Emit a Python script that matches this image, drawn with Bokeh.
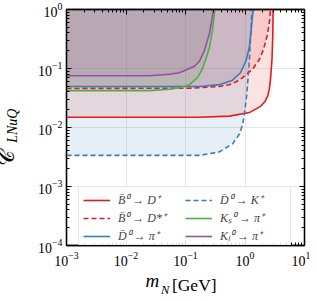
from bokeh.plotting import figure
from bokeh.models import LogAxis, FixedTicker, LogTickFormatter, Title, Legend, LegendItem
from bokeh.embed import file_html
from bokeh.resources import INLINE

# ---- data (m_N in GeV, C_LNuQ upper limits) ----
m_BD = [0.001, 0.17, 0.548, 1.19, 1.872, 2.168, 2.416, 2.581, 2.683, 2.843, 2.932, 2.967]
c_BD = [0.0149, 0.0149, 0.0156, 0.0179, 0.0233, 0.0275, 0.0344, 0.0464, 0.0659, 0.143, 0.379, 1.0]

m_BDs = [0.001, 0.1167, 0.3724, 0.548, 0.719, 0.9078, 1.337, 1.753, 2.046, 2.388, 2.581, 2.683]
c_BDs = [0.0459, 0.0463, 0.0496, 0.0532, 0.0598, 0.0698, 0.0971, 0.1433, 0.2113, 0.379, 0.627, 1.0]

m_Dpi = [0.001, 0.1718, 0.3724, 0.616, 0.840, 1.048, 1.190, 1.271, 1.352, 1.390]
c_Dpi = [0.0496, 0.0496, 0.0532, 0.0634, 0.0848, 0.1378, 0.2374, 0.442, 0.856, 1.0]

m_DK = [0.001, 0.1718, 0.3724, 0.624, 0.8084, 0.918, 0.981, 1.060, 1.123, 1.190, 1.261, 1.311]
c_DK = [0.00337, 0.00337, 0.00386, 0.00533, 0.00776, 0.01146, 0.0176, 0.0327, 0.0659, 0.149, 0.46, 1.0]

m_KS = [0.001, 0.0248, 0.0538, 0.0793, 0.1167, 0.159, 0.1858, 0.2169, 0.2531, 0.2844, 0.3107]
c_KS = [0.0421, 0.0421, 0.0446, 0.0473, 0.0532, 0.0698, 0.0917, 0.1378, 0.2284, 0.442, 1.0]

m_KL = [0.001, 0.0248, 0.0538, 0.0793, 0.1416, 0.1718, 0.2086, 0.2531, 0.2787, 0.2957]
c_KL = [0.0755, 0.0755, 0.0800, 0.0848, 0.1091, 0.1325, 0.2032, 0.394, 0.678, 1.0]

labels = ["B\u0304\u2070 \u2192 D\u207a", "B\u0304\u2070 \u2192 D*\u207a", "D\u0304\u2070 \u2192 \u03c0\u207a",
          "D\u0304\u2070 \u2192 K\u207a", "K\u209b\u2070 \u2192 \u03c0\u207a", "K\u2097\u2070 \u2192 \u03c0\u207a"]

x_major = [1e-3, 1e-2, 1e-1, 1e0, 1e1]
y_major = [1e-4, 1e-3, 1e-2, 1e-1, 1e0]

RED, BLUE, GREEN, PURPLE = "#e41a1c", "#377eb8", "#4daf4a", "#984ea3"
series = [
    (m_BD, c_BD, RED, "solid"),
    (m_BDs, c_BDs, RED, "5 3"),
    (m_Dpi, c_Dpi, BLUE, "solid"),
    (m_DK, c_DK, BLUE, "5 3"),
    (m_KS, c_KS, GREEN, "solid"),
    (m_KL, c_KL, PURPLE, "solid"),
]

SERIF = "'Liberation Serif'"
NB = "\u00a0"

p = figure(width=310, height=298, x_axis_type="log", y_axis_type="log",
           x_range=(1e-3, 10), y_range=(1e-4, 1), output_backend="svg",
           toolbar_location=None, min_border_left=66, min_border_right=6,
           min_border_top=9, min_border_bottom=53)
p.background_fill_color = "white"
p.border_fill_color = "white"
p.outline_line_color = "black"
p.outline_line_width = 1.3

def minors(lo, hi):
    return [j * 10.0 ** k for k in range(lo, hi) for j in range(2, 10)]

xt = FixedTicker(ticks=x_major, minor_ticks=minors(-3, 1))
yt = FixedTicker(ticks=y_major, minor_ticks=minors(-4, 0))

def style(ax, show):
    ax.major_tick_in = 5
    ax.major_tick_out = 0
    ax.minor_tick_in = 3
    ax.minor_tick_out = 0
    ax.axis_line_color = "black"
    ax.axis_line_width = 1.3
    ax.major_tick_line_color = "black"
    ax.minor_tick_line_color = "black"
    ax.major_label_text_font = SERIF
    ax.major_label_text_color = "black"
    if show:
        ax.major_label_text_font_size = "14px"
    else:
        ax.major_label_text_font_size = "1px"
        ax.major_label_text_alpha = 0
        ax.major_label_standoff = 0

p.xaxis.ticker = xt
p.yaxis.ticker = yt
p.xaxis.formatter = LogTickFormatter()
p.yaxis.formatter = LogTickFormatter()
style(p.xaxis[0], True)
style(p.yaxis[0], True)
p.xaxis.major_label_standoff = 6
p.yaxis.major_label_standoff = 4

top = LogAxis(ticker=xt, formatter=LogTickFormatter())
right = LogAxis(ticker=yt, formatter=LogTickFormatter())
style(top, False)
style(right, False)
p.add_layout(top, "above")
p.add_layout(right, "right")

p.xgrid.ticker = xt
p.ygrid.ticker = yt
p.grid.grid_line_color = "#e6e6e6"
p.grid.grid_line_width = 1

for m, c, col, dash in series:
    p.varea(x=m, y1=c, y2=1.0, fill_color=col, fill_alpha=0.12)

renderers = []
for m, c, col, dash in series:
    r = p.line(m, c, line_color=col, line_width=1.6, line_dash=dash)
    renderers.append(r)

items = [LegendItem(label=lab, renderers=[r]) for lab, r in zip(labels, renderers)]
leg = Legend(items=items, ncols=2, location=(12, -4))
leg.label_text_font = SERIF
leg.label_text_font_style = "italic"
leg.label_text_font_size = "12px"
leg.glyph_width = 27
leg.glyph_height = 12
leg.label_height = 12
leg.label_width = 66
leg.spacing = 1
leg.padding = 4
leg.margin = 0
leg.label_standoff = 8
leg.border_line_color = "#cccccc"
leg.border_line_width = 1
leg.background_fill_alpha = 0.85
p.add_layout(leg, "center")

# axis titles built from several text pieces in the side panels
def title(place, text, size, style, valign, standoff):
    p.add_layout(Title(text=text, align="center", vertical_align=valign,
                       standoff=standoff, text_font=SERIF, text_font_size=size,
                       text_font_style=style, text_color="black"), place)

# y: spacer, subscript, script C
title("left", NB, "10px", "normal", "bottom", 17)
title("left", NB + "LNuQ", "14px", "italic", "bottom", -28)
title("left", "\U0001D49E" + NB * 11, "22px", "normal", "bottom", -26)
# x: spacer, m, [GeV], subscript N
title("below", NB, "10px", "normal", "top", 0)
title("below", "m" + NB * 14, "19px", "italic", "top", -23)
title("below", NB * 4 + "[GeV]", "17.5px", "normal", "top", -14)
title("below", "N" + NB * 13, "12.5px", "italic", "top", -14)

open("out.html", "w").write(file_html(p, INLINE))
